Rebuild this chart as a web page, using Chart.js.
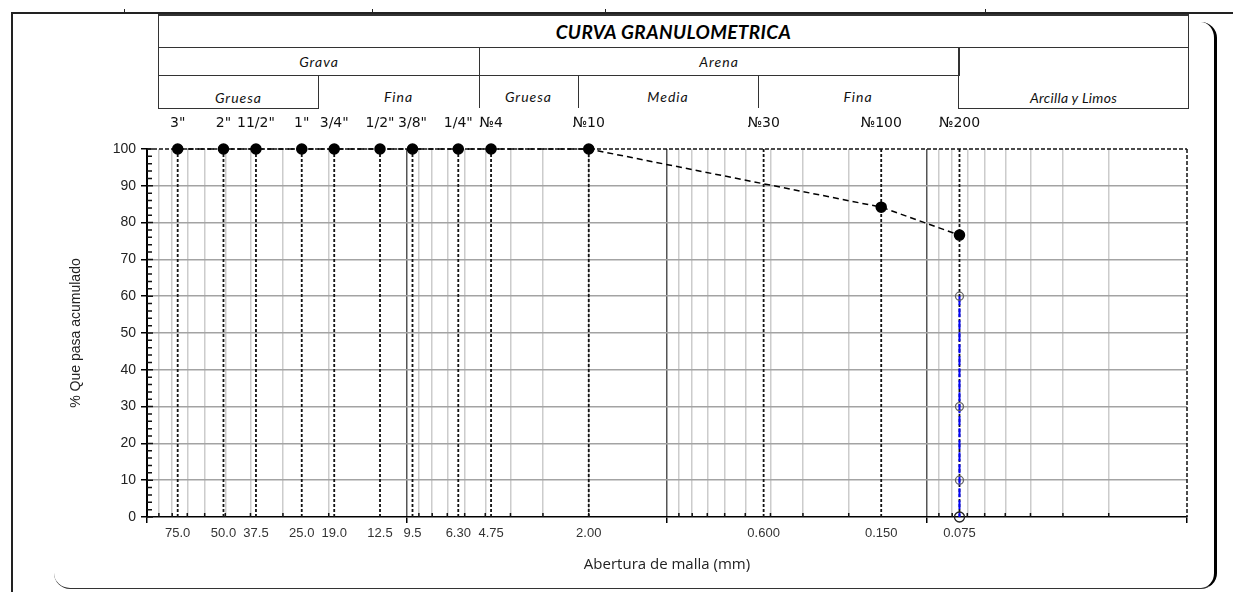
<!DOCTYPE html>
<html lang="es">
<head>
<meta charset="utf-8">
<title>Curva granulométrica</title>
<script src="https://cdn.jsdelivr.net/npm/chart.js@4.4.1/dist/chart.umd.min.js"></script>
<style>
    html, body { margin: 0; padding: 0; background: #fff; }
    #hoja { position: relative; width: 1233px; height: 592px; overflow: hidden; }
    .linea { position: absolute; background: #222; }
    .celda {
        position: absolute; box-sizing: border-box; border: 0 solid #333;
        display: flex; justify-content: center; align-items: center;
        font-family: Lato, 'Liberation Sans', sans-serif; font-style: italic;
        font-size: 14px; letter-spacing: 1px; color: #111;
    }
    .abajo { align-items: flex-end; padding-bottom: 2px; }
    #sombra {
        position: absolute; left: 54px; top: 22px; width: 1160px; height: 566px;
        border-right: 3px solid #000; border-bottom: 1.5px solid #333;
        border-radius: 0 16px 16px 16px;
    }
    #grafico { position: absolute; left: 0; top: 0; }
</style>
</head>
<body>
<div id="hoja">
    <!-- marco de la hoja -->
    <div class="linea" style="left:11px; top:12px; width:1222px; height:1.5px;"></div>
    <div class="linea" style="left:11px; top:12px; width:1.5px; height:580px;"></div>
    <div class="linea" style="left:124px; top:9px; width:1px; height:3px;"></div>
    <div class="linea" style="left:372px; top:9px; width:1px; height:3px;"></div>
    <div class="linea" style="left:605px; top:9px; width:1px; height:3px;"></div>
    <div class="linea" style="left:985px; top:9px; width:1px; height:3px;"></div>
    <div id="sombra"></div>

    <!-- cabecera de clasificación -->
    <div class="celda" style="left:158px; top:14px; width:1031px; height:34px; border-width:2px 1.5px 1.5px 1.5px; font-weight:bold; font-size:19px; letter-spacing:0.4px; color:#000;">CURVA GRANULOMETRICA</div>
    <div class="celda" style="left:158px; top:47px; width:322px; height:29px; border-width:0 1.5px 1.5px 1.5px;">Grava</div>
    <div class="celda" style="left:479px; top:47px; width:481px; height:29px; border-width:0 1.5px 1.5px 0;">Arena</div>
    <div class="celda abajo" style="left:958px; top:47px; width:231px; height:62px; border-width:0 1.5px 1.5px 1.5px; padding-bottom:2px; letter-spacing:0.3px;">Arcilla y Limos</div>
    <div class="celda abajo" style="left:158px; top:75px; width:161px; height:34px; border-width:0 1.5px 1.5px 1.5px;">Gruesa</div>
    <div class="celda abajo" style="left:318px; top:75px; width:162px; height:33px; border-width:0 1.5px 0 0; padding-bottom:3px;">Fina</div>
    <div class="celda abajo" style="left:479px; top:75px; width:100px; height:33px; border-width:0 1.5px 0 0; padding-bottom:3px;">Gruesa</div>
    <div class="celda abajo" style="left:578px; top:75px; width:181px; height:33px; border-width:0 1.5px 0 0; padding-bottom:3px;">Media</div>
    <div class="celda abajo" style="left:758px; top:75px; width:201px; height:33px; border-width:0 1.5px 0 0; padding-bottom:3px;">Fina</div>

    <canvas id="grafico" width="1233" height="592"></canvas>
</div>

<script>
// Tamices usados en el ensayo
const tamices = ['3"', '2"', '11/2"', '1"', '3/4"', '1/2"', '3/8"', '1/4"', '№4', '№10', '№30', '№100', '№200'];
// Abertura donde aparece cada tamiz en el gráfico (mm)
const aberturas = [76.2, 50.8, 38.1, 25.4, 19.05, 12.7, 9.525, 6.35, 4.75, 2.0, 0.425, 0.15, 0.075];
// Texto de abertura bajo el eje
const aberturaTexto = ['75.0', '50.0', '37.5', '25.0', '19.0', '12.5', '9.5', '6.30', '4.75', '2.00', '0.600', '0.150', '0.075'];
// % que pasa acumulado (sin punto en el №30)
const pasaAcumulado = [100, 100, 100, 100, 100, 100, 100, 100, 100, 100, null, 84.2, 76.6];
// Línea de finos sobre el №200
const finosAbertura = [0.075, 0.075, 0.075, 0.075];
const finosPorcentaje = [60, 30, 10, 0];

// Malla logarítmica de 100 mm a 0.01 mm
const decadas = [10, 1, 0.1, 0.01];
const mallaLog = [];
decadas.forEach(d => {
    for (let k = 10; k >= 2; k--) mallaLog.push(k * d);
});
mallaLog.push(0.01);

function esDecada(v) {
    const l = Math.log10(v);
    return Math.abs(l - Math.round(l)) < 1e-6;
}

// Líneas verticales punteadas en cada tamiz (cortes con null)
const lineasTamiz = [];
aberturas.forEach(a => {
    lineasTamiz.push({x: a, y: 0}, {x: a, y: 100}, {x: a, y: null});
});

// Bordes punteados y marcas menores de los ejes
const bordesYMarcas = {
    id: 'bordesYMarcas',
    beforeDatasetsDraw(chart) {
        const {ctx, chartArea: a, scales} = chart;
        ctx.save();
        ctx.strokeStyle = '#111';
        ctx.lineWidth = 1.5;

        ctx.setLineDash([4, 2]);
        ctx.beginPath();
        ctx.moveTo(a.left, a.top);
        ctx.lineTo(a.right, a.top);
        ctx.moveTo(a.right, a.top);
        ctx.lineTo(a.right, a.bottom);
        ctx.stroke();

        ctx.setLineDash([]);
        ctx.beginPath();
        for (let v = 0; v <= 100; v += 2) {
            const y = scales.y.getPixelForValue(v);
            ctx.moveTo(a.left, y);
            ctx.lineTo(a.left + (v % 10 === 0 ? 6 : 5), y);
        }
        mallaLog.forEach(v => {
            if (esDecada(v)) return;
            const x = scales.x.getPixelForValue(v);
            ctx.moveTo(x, a.bottom);
            ctx.lineTo(x, a.bottom - 4);
        });
        ctx.stroke();
        ctx.restore();
    }
};

const ctx = document.getElementById('grafico').getContext('2d');
window.curvaChart = new Chart(ctx, {
    type: 'line',
    data: {
        datasets: [{
            label: 'Curva',
            data: aberturas.map((a, i) => ({x: a, y: pasaAcumulado[i]})),
            borderColor: '#000',
            borderWidth: 1.5,
            borderDash: [6, 4],
            pointRadius: 5,
            pointBackgroundColor: '#000',
            pointBorderColor: '#000',
            spanGaps: true,
            clip: false,
            order: 0
        }, {
            label: 'Finos',
            data: finosPorcentaje.map((p, i) => ({x: finosAbertura[i], y: p})),
            borderColor: '#0000ff',
            borderWidth: 2,
            borderDash: [9, 3],
            pointRadius: [4, 4, 4, 5],
            pointBackgroundColor: 'rgba(255,255,255,0)',
            pointBorderColor: ['#666', '#666', '#666', '#222'],
            pointBorderWidth: 1.3,
            clip: false,
            order: 1
        }, {
            label: 'Tamices',
            data: lineasTamiz,
            borderColor: '#111',
            borderWidth: 1.8,
            borderDash: [3, 2],
            pointRadius: 0,
            spanGaps: false,
            order: 2
        }]
    },
    options: {
        responsive: false,
        animation: false,
        layout: {padding: {top: 112, right: 46, bottom: 14, left: 68}},
        plugins: {
            legend: {display: false},
            tooltip: {enabled: false}
        },
        scales: {
            x: {
                type: 'logarithmic',
                reverse: true,
                min: 0.01,
                max: 100,
                position: 'bottom',
                weight: 0,
                afterBuildTicks: s => { s.ticks = mallaLog.map(v => ({value: v})); },
                afterFit: s => { s.height = 6; },
                ticks: {display: false},
                grid: {
                    color: c => {
                        const v = c.tick.value;
                        if (v <= 0.0100001) return 'rgba(0,0,0,0)';
                        if (v >= 99.9) return '#000';
                        return esDecada(v) ? '#555' : '#cccccc';
                    },
                    lineWidth: 1.5,
                    drawTicks: true,
                    tickLength: 6,
                    tickColor: c => esDecada(c.tick.value) ? '#000' : 'rgba(0,0,0,0)',
                    tickWidth: 1.5
                },
                border: {color: '#000', width: 1.5}
            },
            x2: {
                type: 'logarithmic',
                reverse: true,
                min: 0.01,
                max: 100,
                position: 'bottom',
                weight: 1,
                afterBuildTicks: s => { s.ticks = aberturas.map(v => ({value: v})); },
                afterFit: s => { s.height = 55; },
                grid: {display: false, drawTicks: false},
                border: {display: false},
                ticks: {
                    autoSkip: false,
                    maxRotation: 0,
                    padding: 3,
                    font: {family: 'Liberation Sans', size: 13},
                    color: '#333',
                    callback: (v, i) => aberturaTexto[i]
                },
                title: {
                    display: true,
                    text: 'Abertura de malla (mm)',
                    font: {family: 'Open Sans', size: 15},
                    color: '#222',
                    padding: {top: 0, bottom: 4}
                }
            },
            xTop: {
                type: 'logarithmic',
                reverse: true,
                min: 0.01,
                max: 100,
                position: 'top',
                afterBuildTicks: s => { s.ticks = aberturas.map(v => ({value: v})); },
                afterFit: s => { s.height = 37; },
                grid: {display: false, drawTicks: false},
                border: {display: false},
                ticks: {
                    autoSkip: false,
                    maxRotation: 0,
                    padding: 17,
                    font: {family: 'DejaVu Sans', size: 14},
                    color: '#111',
                    callback: (v, i) => tamices[i]
                }
            },
            y: {
                min: 0,
                max: 100,
                afterFit: s => { s.width = 79; },
                ticks: {
                    stepSize: 10,
                    padding: 5,
                    font: {family: 'Liberation Sans', size: 14},
                    color: '#222'
                },
                grid: {
                    color: c => (c.tick.value === 0 || c.tick.value === 100) ? 'rgba(0,0,0,0)' : '#a3a3a3',
                    lineWidth: 1.5,
                    tickLength: 6,
                    tickColor: '#000',
                    tickWidth: 1.5
                },
                border: {color: '#000', width: 2},
                title: {
                    display: true,
                    text: '% Que pasa acumulado',
                    font: {family: 'Liberation Sans', size: 14},
                    color: '#222',
                    padding: {top: 0, bottom: 0}
                }
            }
        }
    },
    plugins: [bordesYMarcas]
});
</script>
</body>
</html>
